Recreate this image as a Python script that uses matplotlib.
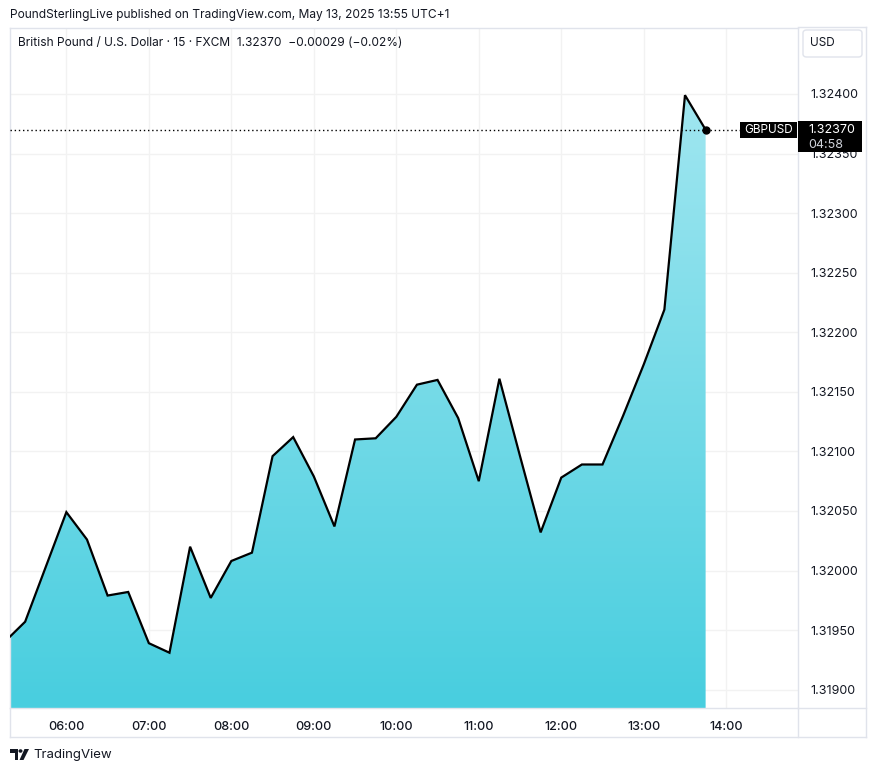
import numpy as np
import matplotlib
matplotlib.use("Agg")
import matplotlib.pyplot as plt
from matplotlib.patches import Rectangle, FancyBboxPatch, Circle, Polygon
from matplotlib.colors import LinearSegmentedColormap

plt.rcParams['font.family'] = ['Inter', 'DejaVu Sans']

# ---------------- data ----------------
times = ["05:15", "05:30", "05:45", "06:00", "06:15", "06:30", "06:45",
         "07:00", "07:15", "07:30", "07:45", "08:00", "08:15", "08:30", "08:45",
         "09:00", "09:15", "09:30", "09:45", "10:00", "10:15", "10:30", "10:45",
         "11:00", "11:15", "11:30", "11:45", "12:00", "12:15", "12:30", "12:45",
         "13:00", "13:15", "13:30", "13:45"]
prices = [1.31940, 1.31957, 1.32003, 1.32049, 1.32026, 1.31979, 1.31982,
          1.31939, 1.31931, 1.32020, 1.31977, 1.32008, 1.32015, 1.32096, 1.32112,
          1.32079, 1.32037, 1.32110, 1.32111, 1.32129, 1.32156, 1.32160, 1.32128,
          1.32075, 1.32161, 1.32096, 1.32032, 1.32078, 1.32089, 1.32089, 1.32130,
          1.32173, 1.32219, 1.32399, 1.32370]
x_tick_labels = ["06:00", "07:00", "08:00", "09:00", "10:00", "11:00", "12:00", "13:00", "14:00"]
y_ticks = [1.31900, 1.31950, 1.32000, 1.32050, 1.32100, 1.32150,
           1.32200, 1.32250, 1.32300, 1.32350, 1.32400]
last_price = 1.32370
header = "PoundSterlingLive published on TradingView.com, May 13, 2025 13:55 UTC+1"
title = "British Pound / U.S. Dollar · 15 · FXCM  1.32370  \u22120.00029 (\u22120.02%)"

def to_hours(s):
    h, m = s.split(":")
    return int(h) + int(m) / 60.0

tx = np.array([to_hours(t) for t in times])
py = np.array(prices)
xt = np.array([to_hours(t) for t in x_tick_labels])

# ---------------- figure ----------------
W, H = 876, 772
fig = plt.figure(figsize=(W / 100, H / 100), dpi=100)
fig.patch.set_facecolor("white")

def fx(x):
    return x / W

def fy(y):
    return 1 - y / H

L, R, T, B = 10, 798, 28, 708
ax = fig.add_axes([fx(L), fy(B), fx(R) - fx(L), fy(T) - fy(B)])
ax.set_facecolor("white")

xmin, xmax = 5 + 19 / 60, 14.87
ymin, ymax = 1.318846, 1.324554
ax.set_xlim(xmin, xmax)
ax.set_ylim(ymin, ymax)

grid_c = "#f2f2f2"
for v in xt:
    ax.axvline(v, color=grid_c, lw=1, zorder=0)
for v in y_ticks:
    ax.axhline(v, color=grid_c, lw=1, zorder=0)

# gradient area fill
poly = ax.fill_between(tx, py, ymin, color="none", lw=0)
cmap = LinearSegmentedColormap.from_list("g", ["#48cedf", "#aae9f2"])
grad = np.linspace(0, 1, 256).reshape(-1, 1)
im = ax.imshow(grad, extent=[xmin, xmax, ymin, ymax], origin="lower",
               aspect="auto", cmap=cmap, zorder=1)
im.set_clip_path(poly.get_paths()[0], transform=ax.transData)

ax.plot(tx, py, color="black", lw=1.6, zorder=3, solid_joinstyle="miter")
ax.plot(tx[-1], py[-1], "o", color="black", ms=5, zorder=4)
ax.axhline(last_price, xmin=0, xmax=(740 - L) / (R - L), color="black",
           lw=1, ls=(0, (1, 2)), zorder=3)

for s in ax.spines.values():
    s.set_color("#e0e3eb")
    s.set_linewidth(1)

ax.set_xticks(xt)
ax.set_xticklabels(x_tick_labels)
ax.set_yticks(y_ticks)
ax.set_yticklabels([f"{v:.5f}" for v in y_ticks])
ax.yaxis.tick_right()
ax.tick_params(axis="both", length=0, colors="#131722", labelsize=9)
ax.tick_params(axis="y", pad=9)
ax.tick_params(axis="x", pad=9)
for lbl in ax.get_xticklabels():
    lbl.set_fontweight("medium")

# outer frame lines (price axis & time axis borders)
frame_c = "#e0e3eb"
fig.add_artist(plt.Line2D([fx(866), fx(866)], [fy(27), fy(737)], color=frame_c, lw=1))
fig.add_artist(plt.Line2D([fx(10), fx(866)], [fy(737), fy(737)], color=frame_c, lw=1))
fig.add_artist(plt.Line2D([fx(10), fx(10)], [fy(708), fy(737)], color=frame_c, lw=1))
fig.add_artist(plt.Line2D([fx(798), fx(866)], [fy(27), fy(27)], color=frame_c, lw=1))
fig.add_artist(plt.Line2D([fx(798), fx(798)], [fy(708), fy(737)], color=frame_c, lw=1))
fig.add_artist(plt.Line2D([fx(798), fx(866)], [fy(708), fy(708)], color=frame_c, lw=1))

# header texts
fig.text(fx(10), fy(15), header, fontsize=8.6, color="#131722", va="center", ha="left")
fig.text(fx(18), fy(43), title, fontsize=8.6, color="#131722", va="center", ha="left")

# USD box
fig.add_artist(FancyBboxPatch((fx(803), fy(57)), fx(862) - fx(803), fy(30) - fy(57),
                              boxstyle="round,pad=0,rounding_size=0.004",
                              transform=fig.transFigure, fc="white", ec="#e0e3eb", lw=1))
fig.text(fx(810), fy(43.5), "USD", fontsize=8.5, color="#131722", va="center", ha="left")

# GBPUSD label
fig.add_artist(Rectangle((fx(740), fy(138)), fx(797) - fx(740), fy(122) - fy(138),
                         transform=fig.transFigure, fc="black", ec="none", zorder=5))
fig.text(fx(768.5), fy(130), "GBPUSD", fontsize=8.5, color="white", va="center",
         ha="center", zorder=6)
fig.add_artist(Rectangle((fx(798), fy(152)), fx(862) - fx(798), fy(121) - fy(152),
                         transform=fig.transFigure, fc="black", ec="none", zorder=5))
fig.text(fx(808), fy(130), f"{last_price:.5f}", fontsize=9, color="white",
         va="center", ha="left", zorder=6)
fig.text(fx(808), fy(145), "04:58", fontsize=9, color="#d1d4dc",
         va="center", ha="left", zorder=6)

# TradingView logo + text
lc = "#131722"
fig.add_artist(Polygon([(fx(10), fy(749)), (fx(18), fy(749)), (fx(18), fy(760)),
                        (fx(14.5), fy(760)), (fx(14.5), fy(752.5)), (fx(10), fy(752.5))],
                       closed=True, transform=fig.transFigure, fc=lc, ec="none"))
fig.add_artist(Circle((fx(20.5), fy(751)), 2.0 / W, transform=fig.transFigure, fc=lc, ec="none"))
fig.add_artist(Polygon([(fx(24.5), fy(749)), (fx(29), fy(749)), (fx(23.5), fy(760)),
                        (fx(19.5), fy(760))],
                       closed=True, transform=fig.transFigure, fc=lc, ec="none"))
fig.text(fx(33), fy(755), "TradingView", fontsize=9.5, color=lc, va="center", ha="left")

fig.savefig("out.png", dpi=100, facecolor="white")
